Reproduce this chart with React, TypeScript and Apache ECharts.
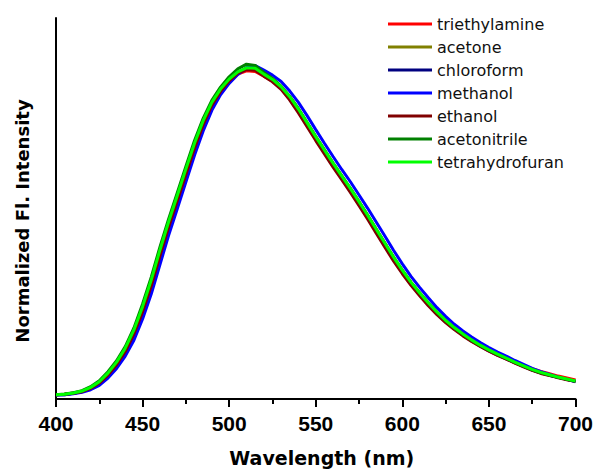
import React, { useEffect, useRef } from "react";
import * as echarts from "echarts";

const wavelengths: number[] = [];
for (let w = 400; w <= 700; w += 5) wavelengths.push(w);

const seriesNames = [
  "triethylamine",
  "acetone",
  "chloroform",
  "methanol",
  "ethanol",
  "acetonitrile",
  "tetrahydrofuran",
];

const seriesColors = ["#ff0000", "#808000", "#000080", "#0000ff", "#800000", "#008000", "#00ff00"];

const triethylamine = [
  0.013, 0.014, 0.017, 0.023, 0.033, 0.048, 0.072, 0.104, 0.144, 0.197, 0.264, 0.342, 0.432, 0.518, 0.597, 0.677,
  0.756, 0.826, 0.883, 0.924, 0.955, 0.978, 0.988, 0.986, 0.972, 0.957, 0.936, 0.906, 0.869, 0.828, 0.786, 0.746,
  0.706, 0.668, 0.63, 0.59, 0.549, 0.507, 0.465, 0.423, 0.385, 0.349, 0.317, 0.287, 0.259, 0.235, 0.213, 0.194,
  0.177, 0.161, 0.147, 0.134, 0.123, 0.111, 0.101, 0.091, 0.083, 0.076, 0.069, 0.063, 0.057,
];
const acetone = [
  0.013, 0.014, 0.018, 0.023, 0.034, 0.05, 0.075, 0.107, 0.148, 0.202, 0.271, 0.35, 0.44, 0.525, 0.604, 0.685,
  0.763, 0.832, 0.888, 0.929, 0.96, 0.983, 0.995, 0.994, 0.977, 0.961, 0.939, 0.909, 0.872, 0.831, 0.789, 0.749,
  0.709, 0.671, 0.633, 0.593, 0.552, 0.51, 0.468, 0.426, 0.387, 0.351, 0.319, 0.289, 0.261, 0.236, 0.214, 0.195,
  0.177, 0.161, 0.147, 0.134, 0.122, 0.11, 0.099, 0.088, 0.079, 0.072, 0.065, 0.059, 0.054,
];
const chloroform = [
  0.013, 0.013, 0.017, 0.022, 0.031, 0.046, 0.069, 0.1, 0.138, 0.189, 0.256, 0.333, 0.422, 0.508, 0.588, 0.668,
  0.748, 0.82, 0.879, 0.923, 0.955, 0.98, 0.993, 0.992, 0.974, 0.958, 0.935, 0.903, 0.865, 0.824, 0.782, 0.742,
  0.702, 0.664, 0.626, 0.586, 0.545, 0.503, 0.461, 0.419, 0.381, 0.345, 0.314, 0.284, 0.257, 0.232, 0.211, 0.192,
  0.175, 0.159, 0.145, 0.132, 0.121, 0.109, 0.098, 0.087, 0.078, 0.071, 0.065, 0.059, 0.053,
];
const methanol = [
  0.012, 0.013, 0.016, 0.02, 0.028, 0.041, 0.063, 0.092, 0.129, 0.177, 0.241, 0.316, 0.404, 0.492, 0.572, 0.653,
  0.734, 0.807, 0.869, 0.916, 0.95, 0.977, 0.998, 1.004, 0.99, 0.975, 0.956, 0.927, 0.893, 0.853, 0.811, 0.77,
  0.73, 0.691, 0.654, 0.614, 0.574, 0.532, 0.49, 0.447, 0.407, 0.369, 0.336, 0.305, 0.275, 0.249, 0.225, 0.205,
  0.187, 0.17, 0.155, 0.141, 0.129, 0.116, 0.104, 0.092, 0.082, 0.074, 0.066, 0.059, 0.052,
];
const ethanol = [
  0.013, 0.014, 0.017, 0.022, 0.032, 0.048, 0.072, 0.103, 0.143, 0.196, 0.263, 0.341, 0.431, 0.517, 0.596, 0.676,
  0.755, 0.826, 0.884, 0.926, 0.958, 0.981, 0.992, 0.99, 0.972, 0.955, 0.932, 0.9, 0.861, 0.82, 0.778, 0.738,
  0.698, 0.66, 0.622, 0.582, 0.541, 0.498, 0.456, 0.415, 0.377, 0.342, 0.311, 0.281, 0.254, 0.23, 0.209, 0.19,
  0.173, 0.158, 0.144, 0.131, 0.12, 0.108, 0.097, 0.086, 0.077, 0.071, 0.064, 0.058, 0.053,
];
const acetonitrile = [
  0.013, 0.015, 0.019, 0.025, 0.037, 0.055, 0.082, 0.115, 0.158, 0.214, 0.286, 0.367, 0.457, 0.541, 0.62, 0.7,
  0.778, 0.845, 0.899, 0.939, 0.97, 0.994, 1.008, 1.004, 0.983, 0.965, 0.942, 0.911, 0.874, 0.832, 0.79, 0.75,
  0.71, 0.672, 0.634, 0.594, 0.553, 0.51, 0.468, 0.426, 0.387, 0.351, 0.319, 0.289, 0.261, 0.236, 0.214, 0.195,
  0.177, 0.161, 0.147, 0.134, 0.122, 0.11, 0.099, 0.088, 0.079, 0.072, 0.065, 0.059, 0.053,
];
const tetrahydrofuran = [
  0.013, 0.014, 0.018, 0.024, 0.035, 0.052, 0.078, 0.111, 0.153, 0.208, 0.278, 0.358, 0.448, 0.533, 0.612, 0.692,
  0.77, 0.838, 0.893, 0.933, 0.963, 0.985, 0.997, 0.996, 0.978, 0.962, 0.94, 0.91, 0.873, 0.832, 0.79, 0.75,
  0.71, 0.672, 0.634, 0.594, 0.553, 0.511, 0.469, 0.427, 0.388, 0.352, 0.32, 0.29, 0.262, 0.237, 0.215, 0.196,
  0.178, 0.162, 0.148, 0.135, 0.123, 0.111, 0.1, 0.089, 0.08, 0.073, 0.066, 0.06, 0.054,
];

const seriesValues = [triethylamine, acetone, chloroform, methanol, ethanol, acetonitrile, tetrahydrofuran];

const xTicks = { min: 400, max: 700, interval: 50 };

export default function App() {
  const ref = useRef<HTMLDivElement>(null);
  useEffect(() => {
    if (!ref.current) return;
    const chart = echarts.init(ref.current, undefined, { renderer: "svg" });
    chart.setOption({
      animation: false,
      backgroundColor: "#ffffff",
      grid: { left: 56, right: 20, top: 18, bottom: 71, containLabel: false },
      legend: {
        orient: "vertical",
        left: 388,
        top: 16,
        padding: 0,
        itemWidth: 44,
        itemHeight: 3,
        itemGap: 7,
        icon: "rect",
        textStyle: { fontFamily: "DejaVu Sans", fontSize: 16, color: "#111", padding: [0, 0, 0, 0] },
        data: seriesNames,
      },
      xAxis: {
        type: "value",
        min: xTicks.min,
        max: xTicks.max,
        interval: xTicks.interval,
        name: "Wavelength (nm)",
        nameLocation: "middle",
        nameGap: 49,
        nameTextStyle: {
          fontFamily: "DejaVu Sans",
          fontWeight: "bold",
          fontSize: 19,
          color: "#000",
          padding: [0, 0, 0, 12],
        },
        axisLine: { show: true, lineStyle: { color: "#000", width: 2 } },
        axisTick: { show: true, length: 8, lineStyle: { color: "#000", width: 2 } },
        minorTick: { show: true, splitNumber: 2, length: 5, lineStyle: { color: "#000", width: 2 } },
        axisLabel: {
          fontFamily: "Liberation Sans",
          fontWeight: "bold",
          fontSize: 21,
          color: "#000",
          margin: 14,
        },
        splitLine: { show: false },
      },
      yAxis: {
        type: "value",
        min: 0,
        max: 1.147,
        axisLine: { show: true, lineStyle: { color: "#000", width: 2 } },
        axisTick: { show: false },
        axisLabel: { show: false },
        splitLine: { show: false },
      },
      graphic: [
        {
          type: "text",
          x: 22,
          y: 221,
          rotation: Math.PI / 2,
          style: {
            text: "Normalized Fl. Intensity",
            fontFamily: "DejaVu Sans",
            fontWeight: "bold",
            fontSize: 18,
            fill: "#000",
            align: "center",
            verticalAlign: "middle",
          },
        },
      ],
      series: seriesNames.map((name, i) => ({
        name,
        type: "line",
        showSymbol: false,
        symbol: "none",
        color: seriesColors[i],
        lineStyle: { width: 3, color: seriesColors[i] },
        data: wavelengths.map((w, j) => [w, seriesValues[i][j]]),
      })),
    });
    return () => chart.dispose();
  }, []);
  return <div ref={ref} style={{ position: "fixed", left: 0, top: 0, width: 596, height: 472 }} />;
}
